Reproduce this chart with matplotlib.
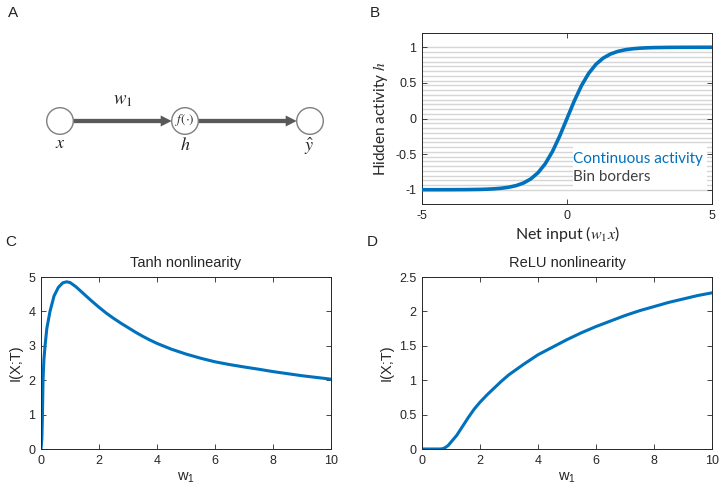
import numpy as np
import matplotlib
matplotlib.use("Agg")
import matplotlib.pyplot as plt
from matplotlib.patches import Circle, FancyArrow, Rectangle

plt.rcParams['mathtext.fontset'] = 'stix'
plt.rcParams['font.family'] = ['Liberation Sans', 'DejaVu Sans']

# ---------------- data ----------------
# Panel B: continuous activity (tanh of net input)
net_input = [-5, -4.5, -4, -3.5, -3, -2.75, -2.5, -2.25, -2, -1.75, -1.5, -1.25, -1,
             -0.75, -0.5, -0.25, 0, 0.25, 0.5, 0.75, 1, 1.25, 1.5, 1.75, 2, 2.25,
             2.5, 2.75, 3, 3.5, 4, 4.5, 5]
hidden_act = [-0.9999, -0.9998, -0.9993, -0.9982, -0.9951, -0.9919, -0.9866, -0.9780,
              -0.9640, -0.9414, -0.9052, -0.8483, -0.7616, -0.6351, -0.4621, -0.2449,
              0.0, 0.2449, 0.4621, 0.6351, 0.7616, 0.8483, 0.9052, 0.9414, 0.9640,
              0.9780, 0.9866, 0.9919, 0.9951, 0.9982, 0.9993, 0.9998, 0.9999]
n_bins = 30
bin_lo, bin_hi = -1.0, 1.0

# Panel C: tanh nonlinearity, I(X;T) vs w1
tanh_w = [0, 0.03, 0.05, 0.07, 0.1, 0.14, 0.2, 0.31, 0.45, 0.6, 0.75, 0.88, 1.0, 1.2,
          1.5, 1.75, 2.0, 2.25, 2.5, 2.75, 3.0, 3.25, 3.5, 3.75, 4, 4.5, 5, 5.5, 6,
          6.5, 7, 7.5, 8, 8.5, 9, 9.5, 10]
tanh_I = [0, 0.3, 1.0, 2.0, 2.6, 3.0, 3.5, 4.0, 4.45, 4.7, 4.83, 4.86, 4.84, 4.72,
          4.49, 4.3, 4.12, 3.95, 3.8, 3.66, 3.53, 3.4, 3.28, 3.17, 3.07, 2.9, 2.76,
          2.64, 2.535, 2.455, 2.385, 2.32, 2.25, 2.19, 2.13, 2.08, 2.03]

# Panel D: ReLU nonlinearity, I(X;T) vs w1
relu_w = [0, 0.3, 0.6, 0.7, 0.8, 0.9, 1.0, 1.2, 1.4, 1.6, 1.8, 2.0, 2.25, 2.5, 2.75,
          3, 3.5, 4, 4.5, 5, 5.5, 6, 6.5, 7, 7.5, 8, 8.5, 9, 9.5, 10]
relu_I = [0, 0, 0, 0.003, 0.02, 0.05, 0.1, 0.2, 0.33, 0.46, 0.58, 0.68, 0.79, 0.89,
          0.99, 1.08, 1.23, 1.37, 1.48, 1.59, 1.69, 1.78, 1.86, 1.94, 2.01, 2.07,
          2.13, 2.18, 2.23, 2.27]

BLUE = '#0072BD'
AX_COL = '#262626'

fig = plt.figure(figsize=(7.19, 4.91), dpi=100)
W, H = 719, 491

def px_axes(l, t, r, b):
    return fig.add_axes([l / W, 1 - b / H, (r - l) / W, (b - t) / H])

def style(ax):
    for s in ax.spines.values():
        s.set_color(AX_COL)
        s.set_linewidth(0.7)
    ax.tick_params(direction='in', top=True, right=True, length=3.5, width=0.6,
                   colors=AX_COL, labelsize=9, pad=4)

# ---------------- Panel A ----------------
axA = px_axes(0, 0, 360, 220)
axA.set_xlim(0, 360)
axA.set_ylim(220, 0)
axA.axis('off')
r = 13.3
cy = 121
centers = [60, 185, 310]
for cx in centers:
    axA.add_patch(Circle((cx, cy), r, facecolor='white', edgecolor='#7f7f7f', lw=1.0, zorder=3))
for a, b in [(centers[0], centers[1]), (centers[1], centers[2])]:
    axA.add_patch(FancyArrow(a + r, cy, (b - r) - (a + r), 0, width=4.3, head_width=11,
                             head_length=11, length_includes_head=True,
                             color='#595959', lw=0, zorder=2))
axA.text(123, 100, r'$w_1$', ha='center', va='center', fontsize=13.5, color='#222222')
axA.text(60, 144, r'$x$', ha='center', va='center', fontsize=13, color='#222222')
axA.text(185, 146, r'$h$', ha='center', va='center', fontsize=13, color='#222222')
axA.text(309, 146, r'$\hat{y}$', ha='center', va='center', fontsize=13, color='#222222')
axA.text(185, 120, r'$f(\cdot)$', ha='center', va='center', fontsize=9.5, color='#333333', zorder=4)

# ---------------- Panel B ----------------
axB = px_axes(422, 33, 712, 204)
borders = np.linspace(bin_lo, bin_hi, n_bins + 1)
for yb in borders:
    axB.axhline(yb, color='#d6d6d6', lw=1.0, zorder=1)
axB.plot(net_input, hidden_act, color=BLUE, lw=2.6, zorder=3, solid_capstyle='butt')
axB.set_xlim(-5, 5)
axB.set_ylim(-1.2, 1.2)
axB.set_xticks([-5, 0, 5])
axB.set_yticks([-1, -0.5, 0, 0.5, 1])
axB.set_xticklabels(['-5', '0', '5'])
axB.set_yticklabels(['-1', '-0.5', '0', '0.5', '1'])
style(axB)
axB.set_xlabel(r'Net input ($w_1x$)', fontfamily='Lato', fontsize=11.5, color=AX_COL, labelpad=2)
axB.set_ylabel(r'Hidden activity $h$', fontfamily='Lato', fontsize=11, color=AX_COL, labelpad=4)
axB.add_patch(Rectangle((0.52, 0.086), 0.462, 0.253, transform=axB.transAxes,
                        facecolor='white', edgecolor='none', zorder=4))
axB.text(0.521, 0.265, 'Continuous activity', transform=axB.transAxes, fontfamily='Lato',
         fontsize=11, color=BLUE, ha='left', va='center', zorder=5)
axB.text(0.521, 0.158, 'Bin borders', transform=axB.transAxes, fontfamily='Lato',
         fontsize=11, color='#404040', ha='left', va='center', zorder=5)

# ---------------- Panel C ----------------
axC = px_axes(41, 277, 331, 449)
axC.plot(tanh_w, tanh_I, color=BLUE, lw=2.2)
axC.set_xlim(0, 10)
axC.set_ylim(0, 5)
axC.set_xticks([0, 2, 4, 6, 8, 10])
axC.set_yticks([0, 1, 2, 3, 4, 5])
style(axC)
axC.set_title('Tanh nonlinearity', fontsize=10.5, color=AX_COL, pad=7)
axC.set_xlabel(r'$\mathregular{w_1}$', fontsize=10.5, color=AX_COL, labelpad=3)
axC.set_ylabel('I(X;T)', fontsize=10.5, color=AX_COL, labelpad=4)

# ---------------- Panel D ----------------
axD = px_axes(422, 277, 712, 449)
axD.plot(relu_w, relu_I, color=BLUE, lw=2.2)
axD.set_xlim(0, 10)
axD.set_ylim(0, 2.5)
axD.set_xticks([0, 2, 4, 6, 8, 10])
axD.set_yticks([0, 0.5, 1, 1.5, 2, 2.5])
axD.set_yticklabels(['0', '0.5', '1', '1.5', '2', '2.5'])
style(axD)
axD.set_title('ReLU nonlinearity', fontsize=10.5, color=AX_COL, pad=7)
axD.set_xlabel(r'$\mathregular{w_1}$', fontsize=10.5, color=AX_COL, labelpad=3)
axD.set_ylabel('I(X;T)', fontsize=10.5, color=AX_COL, labelpad=4)

# ---------------- panel letters ----------------
for letter, x, y in [('A', 13, 13), ('B', 375, 13), ('C', 11, 242), ('D', 372, 242)]:
    fig.text(x / W, 1 - y / H, letter, ha='center', va='center', fontsize=11, color='#222222')

fig.savefig('out.png', dpi=100)
